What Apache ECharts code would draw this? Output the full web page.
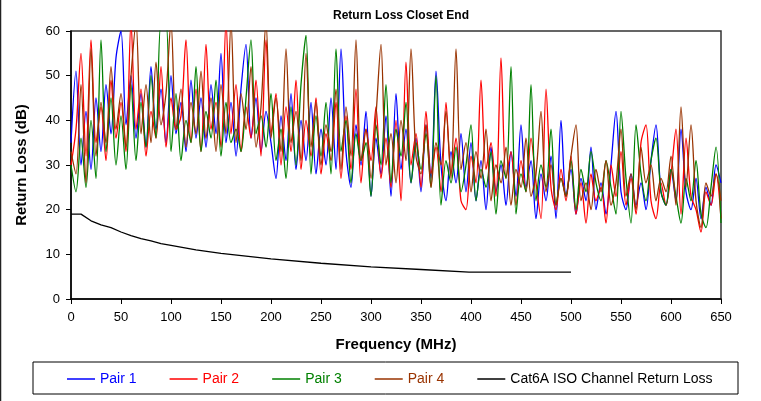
<!DOCTYPE html>
<html>
<head>
<meta charset="utf-8">
<script src="https://cdn.jsdelivr.net/npm/echarts@6/dist/echarts.min.js"></script>
<style>
  html, body { margin: 0; padding: 0; background: #fff; }
  #chart { width: 761px; height: 401px; }
</style>
</head>
<body>
<div id="chart"></div>
<script>
// sweep sampled every 5 MHz from 0 to 650 MHz
const step = 5;

const pair1 = [
  35,51,30,42,29,45,33,48,37,54,
  60,39,50,36,46,34,52,38,47,35,
  50,37,44,33,49,36,45,34,48,37,
  55,35,44,32,47,57,36,45,33,42,
  35,27,41,31,46,29,40,31,44,28,
  38,30,45,29,56,33,25,39,30,42,
  23,36,28,41,23,46,29,38,26,36,
  24,39,27,51,30,22,33,26,37,24,
  35,22,31,20,34,24,30,21,33,23,
  39,25,31,18,28,22,32,18,40,23,
  29,19,27,22,34,20,26,19,30,42,
  24,20,28,21,26,20,31,39,24,21,
  29,22,38,24,20,27,18,25,21,30,
  26
];
const pair2 = [
  30,38,55,32,58,35,43,31,49,36,
  44,33,62,38,47,32,42,36,52,34,
  45,38,41,58,35,47,33,57,38,44,
  34,62,37,48,33,43,36,49,32,58,
  37,46,30,43,33,49,29,40,32,45,
  28,37,31,44,27,41,29,47,26,38,
  31,43,27,36,25,40,22,53,30,37,
  25,42,28,34,24,44,28,36,22,20,
  32,26,49,29,35,23,54,27,33,21,
  31,24,36,26,18,47,25,20,29,22,
  32,19,26,17,28,22,25,17,30,23,
  33,21,27,19,35,39,22,18,26,21,
  28,38,19,36,23,20,15,24,21,28,
  18
];
const pair3 = [
  30,24,36,25,40,27,58,33,45,30,
  41,29,48,31,44,34,50,36,62,62,
  33,46,31,40,35,52,33,42,36,49,
  32,44,35,38,33,45,58,37,41,34,
  46,31,38,27,43,30,48,59,28,41,
  32,44,28,56,33,40,26,37,31,35,
  23,39,30,48,26,38,32,44,26,35,
  29,37,25,50,21,31,26,34,24,30,
  39,22,29,25,33,19,31,27,52,19,
  28,24,48,22,30,25,38,21,27,23,
  31,20,29,24,33,26,22,31,25,19,
  42,27,17,39,28,22,31,36,24,21,
  29,23,17,27,22,31,19,16,25,34,
  17
];
const pair4 = [
  33,28,48,26,56,32,44,35,52,38,
  46,34,50,62,37,48,35,53,39,46,
  62,38,47,34,44,37,51,36,45,33,
  48,37,62,35,46,38,52,34,43,62,
  36,45,33,56,35,42,31,55,34,44,
  30,39,33,47,29,43,32,58,31,38,
  27,41,57,30,37,26,40,31,56,32,
  28,39,25,35,30,42,27,56,29,35,
  24,33,27,38,22,30,26,34,21,29,
  25,36,23,28,42,24,30,21,27,23,
  32,39,22,26,20,29,24,31,21,26,
  38,23,28,20,34,26,30,22,27,24,
  32,21,43,25,39,22,16,26,23,28,
  22
];

// Cat6A ISO channel limit
const isoFreq = [0,10,20,30,40,50,60,70,80,90,100,125,150,175,200,250,300,350,398,500];
const isoLoss = [19,19,17.5,16.6,16,15,14.2,13.5,13,12.4,12,11,10.2,9.6,9,8,7.2,6.6,6,6];

const seriesNames = ["Pair 1", "Pair 2", "Pair 3", "Pair 4", "Cat6A ISO Channel Return Loss"];
const seriesColors = ["#0000ff", "#ff0000", "#008000", "#993300", "#000000"];

const toPoints = (arr) => arr.map((v, i) => [i * step, v]);

const font = "Liberation Sans, Arial, sans-serif";
const myChart = echarts.init(document.getElementById("chart"));

const pairSeries = [pair1, pair2, pair3, pair4].map((arr, i) => ({
  name: seriesNames[i],
  type: "line",
  data: toPoints(arr),
  symbol: "none",
  smooth: 0.3,
  lineStyle: { color: seriesColors[i], width: 1.3 },
  itemStyle: { color: seriesColors[i] },
}));

const options = {
  animation: false,
  title: {
    text: "Return Loss Closet End",
    left: 396,
    top: 5,
    textAlign: "center",
    textStyle: { fontFamily: font, fontSize: 12, fontWeight: "bold", color: "#000" },
  },
  grid: {
    left: 71, right: 40, top: 31, bottom: 102,
    show: true, borderColor: "#333", borderWidth: 1.5,
  },
  xAxis: {
    type: "value",
    min: 0, max: 650, interval: 50,
    name: "Frequency (MHz)",
    nameLocation: "middle",
    nameGap: 38,
    nameTextStyle: { fontFamily: font, fontSize: 15, fontWeight: "bold", color: "#000" },
    axisLine: { lineStyle: { color: "#000", width: 1.5 } },
    axisTick: { show: true, length: 5, lineStyle: { color: "#000" } },
    axisLabel: { fontFamily: font, fontSize: 13, color: "#000", margin: 12 },
    splitLine: { show: false },
  },
  yAxis: {
    type: "value",
    min: 0, max: 60, interval: 10,
    name: "Return Loss (dB)",
    nameLocation: "middle",
    nameGap: 42,
    nameTextStyle: { fontFamily: font, fontSize: 15, fontWeight: "bold", color: "#000" },
    axisLine: { show: true, lineStyle: { color: "#000", width: 1.5 } },
    axisTick: { show: true, length: 5, lineStyle: { color: "#000" } },
    axisLabel: { fontFamily: font, fontSize: 13, color: "#000", margin: 11 },
    splitLine: { show: false },
  },
  legend: {
    left: 67,
    top: 372,
    padding: 0,
    icon: "rect",
    itemWidth: 28,
    itemHeight: 1.5,
    itemGap: 33,
    textStyle: { fontFamily: font, fontSize: 14 },
    data: seriesNames.map((n, i) => ({ name: n, textStyle: { color: seriesColors[i] } })),
  },
  graphic: [
    {
      type: "rect",
      shape: { x: 33, y: 362, width: 705, height: 32 },
      style: { fill: "none", stroke: "#000", lineWidth: 1 },
      z: -1,
    },
    {
      type: "line",
      shape: { x1: 0.5, y1: 0, x2: 0.5, y2: 401 },
      style: { stroke: "#222", lineWidth: 1.5 },
    },
  ],
  series: [
    ...pairSeries,
    {
      name: seriesNames[4],
      type: "line",
      data: isoFreq.map((f, i) => [f, isoLoss[i]]),
      symbol: "none",
      smooth: false,
      lineStyle: { color: "#000", width: 1.3 },
      itemStyle: { color: "#000" },
    },
  ],
};

myChart.setOption(options);
</script>
</body>
</html>
